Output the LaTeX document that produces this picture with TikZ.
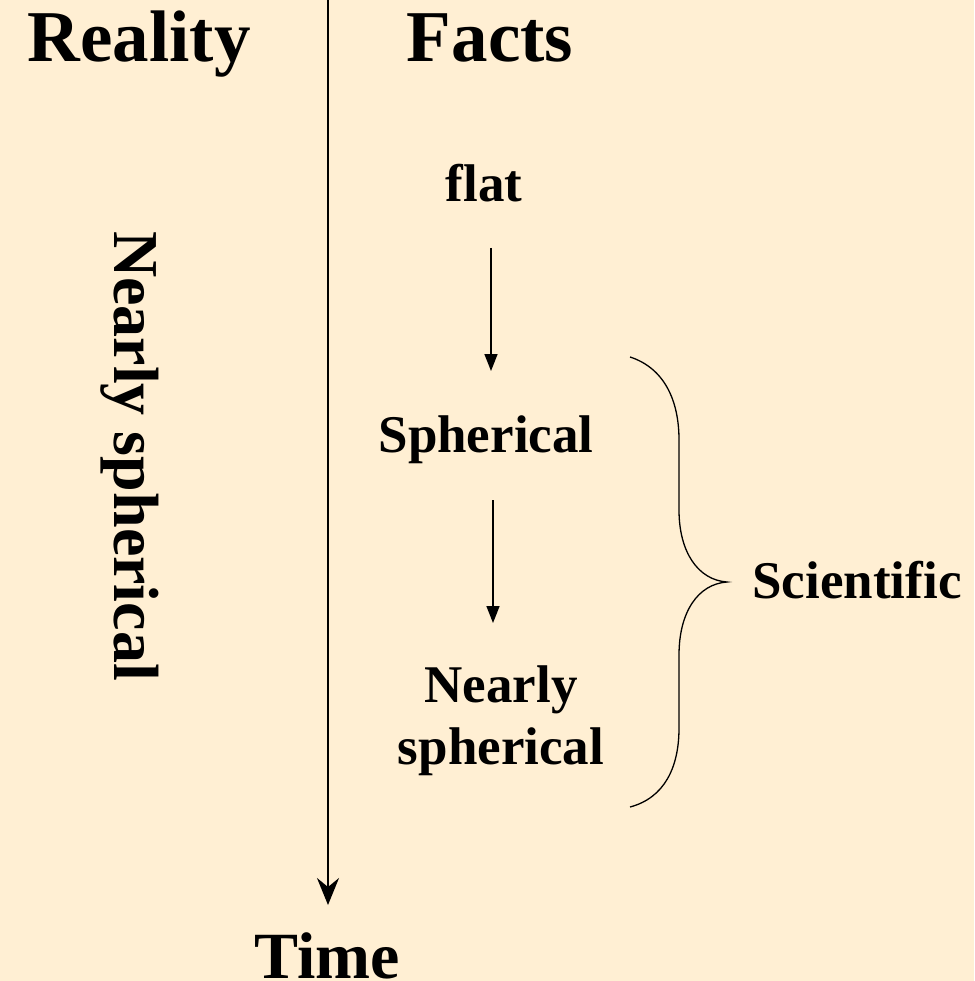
\documentclass[tikz,border=0pt]{standalone}
\usepackage{fontspec}
\setmainfont{Liberation Serif}
\usetikzlibrary{arrows.meta}
\definecolor{bg}{HTML}{FFEFD3}
\begin{document}
\begin{tikzpicture}[x=1pt,y=-1pt,
  big/.style={font=\fontsize{73}{80}\selectfont\bfseries, anchor=base, inner sep=0pt},
  mid/.style={font=\fontsize{53}{62}\selectfont\bfseries, anchor=base, inner sep=0pt},
  smallarrow/.style={line width=1.6pt, -{Triangle[length=17pt,width=13pt]}},
  timearrow/.style={line width=2pt, -{Stealth[length=27pt,width=22pt,inset=9pt]}}]
\useasboundingbox[fill=bg] (0,0) rectangle (974,981);
\node[big] (reality) at (139,62) {Reality};
\node[big] (facts) at (490,62) {Facts};
\node[big,font=\fontsize{66}{72}\selectfont\bfseries] (time) at (327,978) {Time};
\coordinate (ttop) at (328,0);
\coordinate (tend) at (328,905);
\draw[timearrow] (ttop) -- (tend);
\node[font=\fontsize{64}{70}\selectfont\bfseries, rotate=-90, inner sep=0pt] (reallabel) at (130,456) {Nearly spherical};
\node[mid] (flat) at (484,202) {flat};
\node[mid] (sph) at (486,452) {Spherical};
\node[mid, align=center, anchor=north] (near) at (501,666) {Nearly\\spherical};
\coordinate (a1s) at (491,248);
\coordinate (a1e) at (491,371);
\coordinate (a2s) at (493,500);
\coordinate (a2e) at (493,623);
\draw[smallarrow] (a1s) -- (a1e);
\draw[smallarrow] (a2s) -- (a2e);
\coordinate (btop) at (630,357);
\coordinate (btip) at (727,582);
\coordinate (bbot) at (630,807);
\draw[line width=1.3pt] (btop) .. controls (664,368) and (679,400) .. (679,440) -- (679,510)
  .. controls (679,552) and (698,580) .. (btip)
  .. controls (698,584) and (679,612) .. (679,655) -- (679,728)
  .. controls (679,768) and (664,798) .. (bbot);
\node[mid] (sci) at (857,598) {Scientific};
\end{tikzpicture}
\end{document}
